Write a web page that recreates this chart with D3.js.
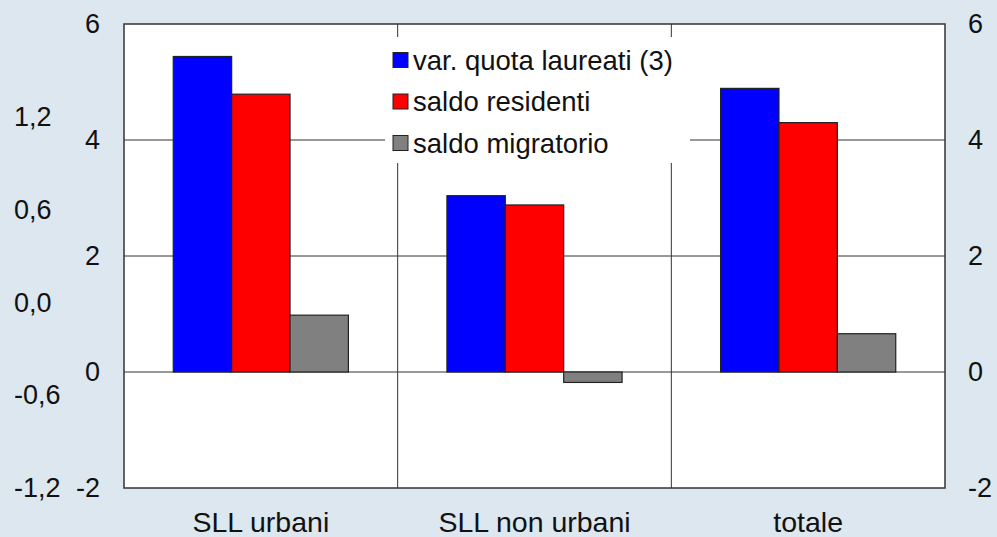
<!DOCTYPE html>
<html>
<head>
<meta charset="utf-8">
<script src="https://cdn.jsdelivr.net/npm/d3@7"></script>
<style>
  body { margin: 0; background: #dde7f0; }
  svg { display: block; font-family: "Liberation Sans", Arial, sans-serif; }
</style>
</head>
<body>
<svg id="chart" width="997" height="537"></svg>
<script>
// Data
const categories = ['SLL urbani', 'SLL non urbani', 'totale'];
const seriesNames = ['var. quota laureati (3)', 'saldo residenti', 'saldo migratorio'];
const seriesColors = ['#0000ff', '#ff0000', '#808080'];
const quotaLaureati = [5.44, 3.04, 4.89];
const saldoResidenti = [4.79, 2.88, 4.30];
const saldoMigratorio = [0.98, -0.18, 0.66];
const leftTicks = [-2, 0, 2, 4, 6];
const outerTicks = [-1.2, -0.6, 0, 0.6, 1.2];

const seriesValues = [quotaLaureati, saldoResidenti, saldoMigratorio];

const svg = d3.select('#chart');
const margin = { top: 24, right: 52, bottom: 49, left: 124 };
const width = 997 - margin.left - margin.right;
const height = 537 - margin.top - margin.bottom;

const g = svg.append('g').attr('transform', `translate(${margin.left},${margin.top})`);

const x0 = d3.scaleBand().domain(categories).range([0, width]).padding(0);
const x1 = d3.scaleBand().domain(d3.range(seriesNames.length))
  .range([x0.bandwidth() * 0.18, x0.bandwidth() * 0.82]).padding(0);
const y = d3.scaleLinear().domain([-2, 6]).range([height, 0]);
// outer left scale (only labels are shown)
const y2 = d3.scaleLinear().domain([-1.2, 1.8]).range([height, 0]);

const fmt = d => d3.format('.1f')(d).replace('.', ',').replace('−', '-');

// plot background
g.append('rect').attr('width', width).attr('height', height).attr('fill', '#fff');

// gridlines
g.append('g').selectAll('line.h')
  .data(leftTicks.filter(t => t > -2 && t < 6))
  .join('line')
  .attr('x1', 0).attr('x2', width)
  .attr('y1', d => y(d)).attr('y2', d => y(d))
  .attr('stroke', '#333').attr('stroke-width', 1);

g.append('g').selectAll('line.v')
  .data(categories.slice(1))
  .join('line')
  .attr('x1', d => x0(d)).attr('x2', d => x0(d))
  .attr('y1', 0).attr('y2', height)
  .attr('stroke', '#333').attr('stroke-width', 1);

// bars
const groups = g.append('g').selectAll('g')
  .data(categories)
  .join('g')
  .attr('transform', d => `translate(${x0(d)},0)`);

groups.selectAll('rect')
  .data((c, ci) => seriesValues.map((vals, si) => ({ si, v: vals[ci] })))
  .join('rect')
  .attr('x', d => x1(d.si))
  .attr('width', x1.bandwidth())
  .attr('y', d => y(Math.max(0, d.v)))
  .attr('height', d => Math.abs(y(d.v) - y(0)))
  .attr('fill', d => seriesColors[d.si])
  .attr('stroke', '#222').attr('stroke-width', 1.2);

// legend
const lg = g.append('g');
lg.append('rect')
  .attr('x', 385 - margin.left).attr('y', 37 - margin.top)
  .attr('width', 305).attr('height', 126)
  .attr('fill', '#fff');
seriesNames.forEach((name, i) => {
  const cy = 60 - margin.top + i * 41.5;
  lg.append('rect')
    .attr('x', 393 - margin.left).attr('y', cy - 7.5)
    .attr('width', 15).attr('height', 15)
    .attr('fill', seriesColors[i]).attr('stroke', '#222').attr('stroke-width', 1);
  lg.append('text')
    .attr('x', 413 - margin.left).attr('y', cy)
    .attr('dy', '0.35em')
    .attr('font-size', 27.5).attr('fill', '#111')
    .text(name);
});

// border
g.append('rect').attr('width', width).attr('height', height)
  .attr('fill', 'none').attr('stroke', '#333').attr('stroke-width', 1.5);

// axes
const axisLeft = g.append('g').call(d3.axisLeft(y).tickValues(leftTicks).tickSize(0).tickPadding(24).tickFormat(d3.format('d')));
const axisRight = g.append('g').attr('transform', `translate(${width},0)`)
  .call(d3.axisRight(y).tickValues(leftTicks).tickSize(0).tickPadding(23).tickFormat(d3.format('d')));
const axisOuter = g.append('g').attr('transform', `translate(${14 - margin.left},0)`)
  .call(d3.axisRight(y2).tickValues(outerTicks).tickSize(0).tickPadding(0).tickFormat(fmt));
const axisBottom = g.append('g').attr('transform', `translate(0,${height})`)
  .call(d3.axisBottom(x0).tickSize(0).tickPadding(24));

[axisLeft, axisRight, axisOuter, axisBottom].forEach(a => {
  a.select('.domain').remove();
  a.selectAll('text').attr('font-size', 27).attr('fill', '#111')
    .attr('font-family', '"Liberation Sans", Arial, sans-serif');
});
axisLeft.selectAll('text').text(d => d < 0 ? '-' + Math.abs(d) : d);
axisRight.selectAll('text').text(d => d < 0 ? '-' + Math.abs(d) : d);
axisBottom.selectAll('text').attr('font-size', 28.5);
</script>
</body>
</html>
